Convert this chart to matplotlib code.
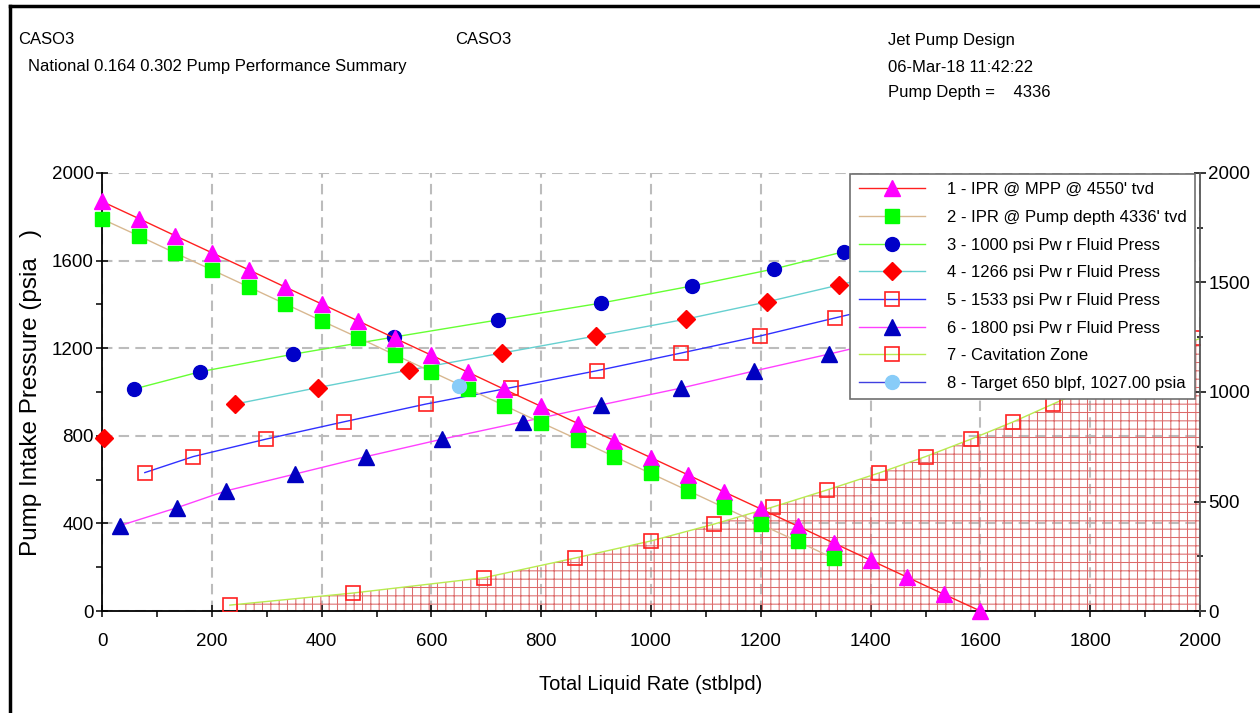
import numpy as np
import matplotlib
matplotlib.use("Agg")
import matplotlib.pyplot as plt
from matplotlib.lines import Line2D
from matplotlib.ticker import MultipleLocator

plt.rcParams['font.family'] = ['Liberation Sans', 'DejaVu Sans']
plt.rcParams['hatch.linewidth'] = 0.75

# datos
# 1 - IPR @ MPP
ipr_mpp_x = [0, 67, 133, 200, 267, 333, 400, 467, 533, 600, 667, 733, 800,
             867, 933, 1000, 1067, 1133, 1200, 1267, 1333, 1400, 1467, 1533, 1600]
ipr_mpp_y = [1870, 1792, 1714, 1636, 1558, 1480, 1402, 1324, 1246, 1168, 1090, 1012, 934,
             856, 778, 700, 622, 544, 466, 388, 310, 232, 154, 77, 0]
# 2 - IPR @ pump depth
ipr_pd_x = [0, 67, 133, 200, 267, 333, 400, 467, 533, 600, 667, 733, 800,
            867, 933, 1000, 1067, 1133, 1200, 1267, 1333]
ipr_pd_y = [1790, 1713, 1635, 1558, 1480, 1403, 1325, 1248, 1170, 1093, 1015, 938, 860,
            783, 705, 628, 550, 473, 395, 318, 240]
# 3 - 1000 psi
p1000_x = [59, 178, 347, 532, 721, 909, 1074, 1224, 1352, 1472]
p1000_y = [1014, 1092, 1172, 1251, 1329, 1406, 1484, 1562, 1641, 1719]
# 4 - 1266 psi (el primer punto queda suelto)
p1266_x = [4, 243, 393, 559, 729, 900, 1064, 1212, 1343, 1470]
p1266_y = [790, 945, 1020, 1100, 1178, 1256, 1333, 1412, 1489, 1567]
# 5 - 1533 psi
p1533_x = [78, 166, 299, 441, 590, 745, 901, 1055, 1199, 1335, 1465]
p1533_y = [632, 705, 785, 864, 945, 1020, 1097, 1178, 1256, 1338, 1415]
# 6 - 1800 psi
p1800_x = [33, 137, 225, 351, 481, 620, 767, 909, 1055, 1188, 1324, 1455]
p1800_y = [390, 472, 548, 625, 705, 785, 864, 941, 1018, 1096, 1173, 1250]
# 7 - cavitacion
cav_x = [233, 457, 696, 862, 1000, 1115, 1222, 1321, 1415, 1500, 1583, 1660, 1732,
         1800, 1866, 1930, 2000]
cav_y = [27, 82, 152, 242, 320, 397, 475, 553, 630, 705, 785, 864, 945,
         1020, 1097, 1175, 1245]
# 8 - target
target_x = [650]
target_y = [1027]

labels = ["1 - IPR @ MPP @ 4550' tvd",
          "2 - IPR @ Pump depth 4336' tvd",
          "3 - 1000 psi Pw r Fluid Press",
          "4 - 1266 psi Pw r Fluid Press",
          "5 - 1533 psi Pw r Fluid Press",
          "6 - 1800 psi Pw r Fluid Press",
          "7 - Cavitation Zone",
          "8 - Target 650 blpf, 1027.00 psia"]

fig = plt.figure(figsize=(12.6, 7.13), dpi=100)
ax = fig.add_axes([102/1260, 1-611/713, 1098/1260, 438/713])

# zona de cavitacion rayada
ax.fill_between(cav_x, 0, cav_y, facecolor='none', edgecolor='#dc6a6a',
                hatch='++', linewidth=0, zorder=1)

lw = 1.0
h1, = ax.plot(ipr_mpp_x, ipr_mpp_y, color='#ff2020', lw=lw, marker='^', ms=11,
              mfc='#ff00ff', mec='#ff00ff', clip_on=False, zorder=5)
h2, = ax.plot(ipr_pd_x, ipr_pd_y, color='#d8b890', lw=lw, marker='s', ms=9.5,
              mfc='#00ff00', mec='#00ff00', clip_on=False, zorder=5)
h3, = ax.plot(p1000_x, p1000_y, color='#66ff33', lw=lw, marker='o', ms=10,
              mfc='#0000c8', mec='#0000c8', zorder=4)
ax.plot(p1266_x[1:], p1266_y[1:], color='#66d0d0', lw=lw, zorder=4)
ax.plot(p1266_x[:1], p1266_y[:1], ls='none', marker='D', ms=9,
        mfc='#ff0000', mec='#ff0000', clip_on=False, zorder=4)
h4 = Line2D([], [], color='#66d0d0', lw=lw, marker='D', ms=9, mfc='#ff0000', mec='#ff0000')
ax.plot(p1266_x[1:], p1266_y[1:], ls='none', marker='D', ms=9,
        mfc='#ff0000', mec='#ff0000', zorder=4)
h5, = ax.plot(p1533_x, p1533_y, color='#3030ff', lw=lw, marker='s', ms=9.5,
              mfc='none', mec='#ff2020', mew=1.2, zorder=4)
h6, = ax.plot(p1800_x, p1800_y, color='#ff40ff', lw=lw, marker='^', ms=11,
              mfc='#0000c0', mec='#0000c0', zorder=4)
h7, = ax.plot(cav_x, cav_y, color='#b8ec50', lw=lw, marker='s', ms=9.5,
              mfc='none', mec='#ff2020', mew=1.2, zorder=4)
h8, = ax.plot(target_x, target_y, color='#4040e0', lw=lw, marker='o', ms=10,
              mfc='#88ccf8', mec='#88ccf8', zorder=6)

ax.set_xlim(0, 2000)
ax.set_ylim(0, 2000)
ax.xaxis.set_major_locator(MultipleLocator(200))
ax.xaxis.set_minor_locator(MultipleLocator(100))
ax.yaxis.set_major_locator(MultipleLocator(400))
ax.yaxis.set_minor_locator(MultipleLocator(200))
ax.grid(True, which='major', ls=(0, (5, 3)), color='#bcbcbc', lw=1.5, zorder=0)
ax.set_axisbelow(True)

ax.tick_params(which='major', direction='inout', length=8, width=1.1, labelsize=13.5)
ax.tick_params(which='minor', direction='out', length=4, width=1.1)
ax.tick_params(axis='x', which='major', pad=12)
ax.tick_params(axis='y', which='major', pad=2)
ax.spines['top'].set_visible(False)
ax.spines['right'].set_visible(False)
ax.spines['left'].set_linewidth(1.3)
ax.spines['bottom'].set_linewidth(1.3)

ax.set_xlabel('Total Liquid Rate (stblpd)', fontsize=14.5, labelpad=18)
ax.set_ylabel('Pump Intake Pressure (psia   )', fontsize=17.5, labelpad=7)

# eje derecho
ax2 = ax.twinx()
ax2.set_ylim(0, 2000)
ax2.yaxis.set_major_locator(MultipleLocator(500))
ax2.yaxis.set_minor_locator(MultipleLocator(250))
ax2.tick_params(which='major', direction='inout', length=8, width=1.1, labelsize=13.5, pad=2)
ax2.tick_params(which='minor', direction='inout', length=5, width=1.1)
for s in ['top', 'left', 'bottom']:
    ax2.spines[s].set_visible(False)
ax2.spines['right'].set_color('#555555')
ax2.spines['right'].set_linewidth(1.3)

leg = ax2.legend([h1, h2, h3, h4, h5, h6, h7, h8], labels, loc='upper right',
                 bbox_to_anchor=(0.9955, 0.998), borderaxespad=0, fontsize=12,
                 numpoints=1, handlelength=4.0, handletextpad=1.3, labelspacing=0.76,
                 borderpad=0.5, fancybox=False, framealpha=1, edgecolor='#707070')
leg.get_frame().set_linewidth(1.2)

# encabezado
def px(x, y):
    return x/1260, 1-y/713

fs = 12
fig.text(*px(18, 40), 'CASO3', fontsize=fs, va='center')
fig.text(*px(28, 67), 'National 0.164 0.302 Pump Performance Summary', fontsize=fs, va='center')
fig.text(*px(455, 40), 'CASO3', fontsize=fs, va='center')
fig.text(*px(888, 40), 'Jet Pump Design', fontsize=fs, va='center')
fig.text(*px(888, 67), '06-Mar-18 11:42:22', fontsize=fs, va='center')
fig.text(*px(888, 93), 'Pump Depth =    4336', fontsize=fs, va='center')

# marco exterior
fig.add_artist(Line2D([10/1260, 1], [1-6/713, 1-6/713], color='black', lw=2.5))
fig.add_artist(Line2D([10/1260, 10/1260], [0, 1-6/713], color='black', lw=2.5))

fig.savefig('out.png', dpi=100)
